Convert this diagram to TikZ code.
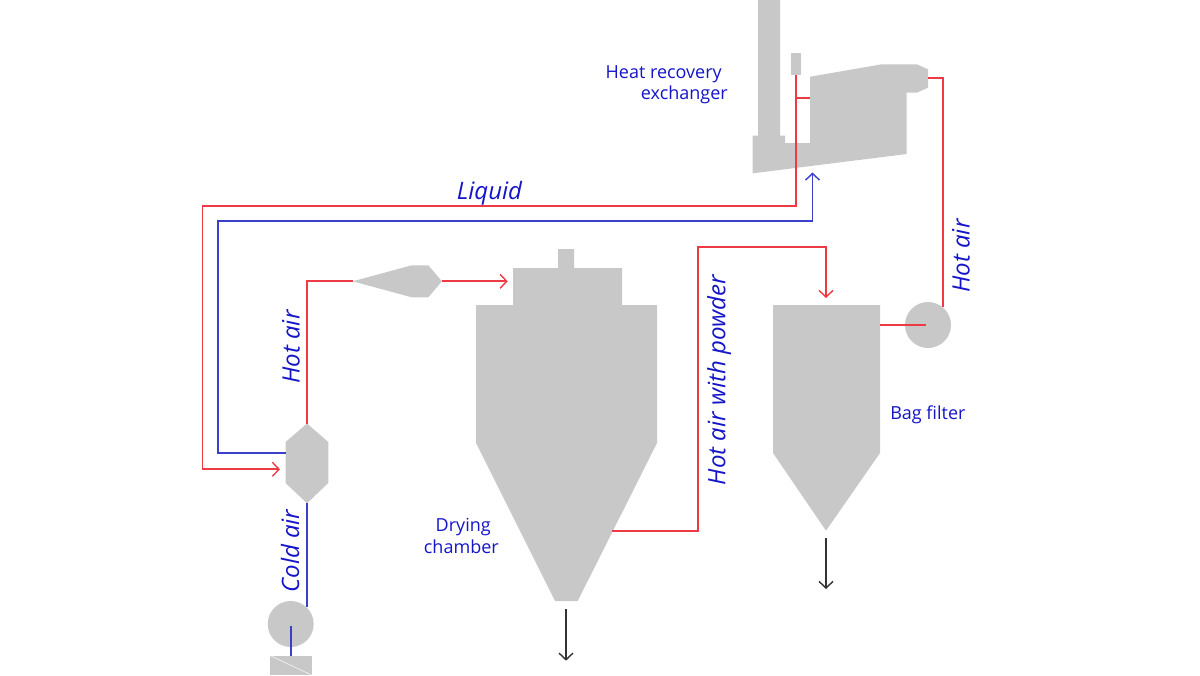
\documentclass[tikz,border=0pt]{standalone}
\usepackage{fontspec}
\setmainfont{Open Sans}
\usetikzlibrary{arrows.meta}
\definecolor{unitgrey}{HTML}{C8C8C8}
\definecolor{hotred}{HTML}{EE3A45}
\definecolor{coldblue}{HTML}{3A3FCC}
\definecolor{labelblue}{HTML}{1414C8}
\tikzset{
  unit/.style={fill=unitgrey,draw=none},
  pipe/.style={line width=1.3pt,line join=miter},
  hot/.style={pipe,draw=hotred},
  cold/.style={pipe,draw=coldblue},
  flowtip/.style={-{Straight Barb[length=5pt,width=10.5pt,line width=1.05pt]}},
  product/.style={line width=1pt,draw=black!80,flowtip},
  streamlabel/.style={font=\fontsize{18pt}{21pt}\selectfont\itshape,text=labelblue,inner sep=0pt},
  unitlabel/.style={font=\fontsize{13.5pt}{16pt}\selectfont,text=labelblue,inner sep=0pt},
}
\begin{document}
\begin{tikzpicture}[x=0.75pt,y=-0.75pt]
\useasboundingbox (0,0) rectangle (1200,675);
% units
\fill[unit] (758,0) -- (780,0) -- (780,135.5) -- (785,135.5) -- (785,143) -- (810,143) -- (810,76.7) -- (881.7,64.3) -- (916.7,64.3) -- (928,69.3) -- (928,87.7) -- (916.7,92.7) -- (906.7,92.7) -- (906.7,154) -- (752.7,173.3) -- (752.7,135.5) -- (758,135.5) -- cycle;
\fill[unit] (790.7,52.7) rectangle (801,75);
\fill[unit] (307,423.5) -- (328.3,442) -- (328.3,483) -- (307,503.3) -- (285.6,483) -- (285.6,442) -- cycle;
\fill[unit] (352.7,281.3) -- (411.7,265.3) -- (428.3,265.3) -- (442,281.3) -- (428.3,297.3) -- (411.7,297.3) -- cycle;
\fill[unit] (558,249) -- (574,249) -- (574,268) -- (622,268) -- (622,305) -- (657,305) -- (657,443) -- (577.7,601) -- (555,601) -- (476,443) -- (476,305) -- (513,305) -- (513,268) -- (558,268) -- cycle;
\fill[unit] (773,305) -- (880,305) -- (880,453) -- (826,530.7) -- (773,453) -- cycle;
\fill[unit] (928,325) circle[radius=23];
\fill[unit] (290.7,624) circle[radius=23];
\fill[unit] (270,655.5) rectangle (311.5,675);
\draw[white!92!unitgrey,line width=0.4pt] (270,655.5) -- (311.5,675);
% named ends
\coordinate (exTap) at (796,75);
\coordinate (exJoin) at (796,98);
\coordinate (exWall) at (810,98);
\coordinate (exOut) at (928,78);
\coordinate (fanIn) at (943.3,307);
\coordinate (fanC) at (925.7,325);
\coordinate (bagR) at (880,325);
\coordinate (hexTip) at (280,469.3);
\coordinate (hexL) at (285.6,452.7);
\coordinate (exTip) at (812.5,172.5);
\coordinate (hexTop) at (307,423.5);
\coordinate (hexBot) at (307,503.3);
\coordinate (coneL) at (352.7,281.3);
\coordinate (coneR) at (442,281.3);
\coordinate (chamTip) at (507.7,281.3);
\coordinate (chamOut) at (612,531);
\coordinate (bagTip) at (826,298);
\coordinate (fan2) at (307,607);
\coordinate (fan2c) at (291,626);
\coordinate (box) at (291,655.5);
% connectors
\draw[hot] (exJoin) -- (exWall);
\draw[hot,flowtip] (exTap) |- (202.5,206) |- (hexTip);
\draw[cold,flowtip] (hexL) -| (217.7,221) -| (exTip);
\draw[hot] (exOut) -| (fanIn);
\draw[hot] (bagR) -- (fanC);
\draw[hot] (hexTop) |- (coneL);
\draw[hot,flowtip] (coneR) -- (chamTip);
\draw[hot,flowtip] (chamOut) -| (698,247) -| (bagTip);
\draw[cold] (hexBot) -- (fan2);
\draw[cold] (fan2c) -- (box);
\draw[product] (566,609) -- (566,660.7);
\draw[product] (826,538) -- (826,589);
% labels
\node[streamlabel] (lLiquid) at (489.5,193) {Liquid};
\node[streamlabel,rotate=90] (lHot1) at (291,347) {Hot air};
\node[streamlabel,rotate=90] (lCold) at (290,551) {Cold air};
\node[streamlabel,rotate=90] (lPowder) at (719,380) {Hot air with powder};
\node[streamlabel,rotate=90] (lHot2) at (961,256) {Hot air};
\node[unitlabel,align=right,anchor=north east] (lHeat) at (728,65) {Heat recovery\hspace*{4.5pt}\\exchanger};
\node[unitlabel,align=right,anchor=east] (lDry) at (499,536) {Drying\hspace*{6pt}\\chamber};
\node[unitlabel,anchor=west] (lBag) at (890,415) {Bag filter};
\end{tikzpicture}
\end{document}
